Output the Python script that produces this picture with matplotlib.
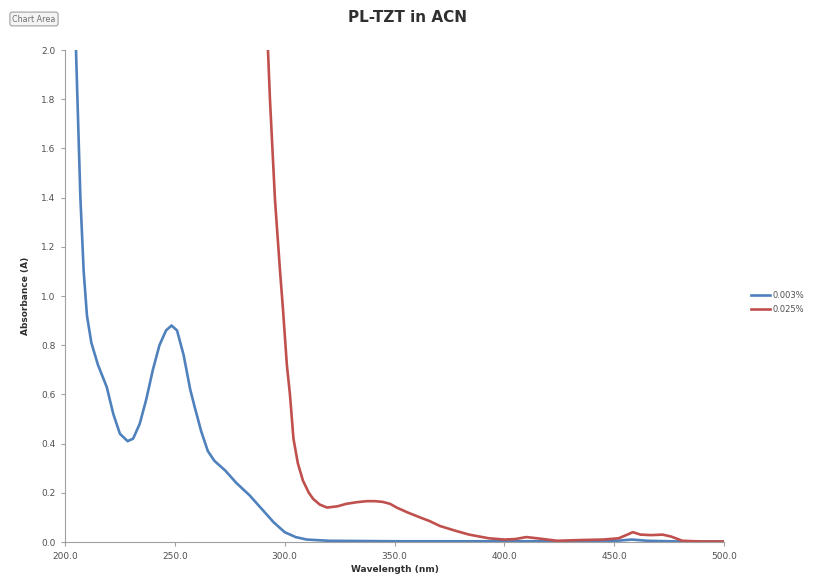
import matplotlib
matplotlib.use("Agg")
import matplotlib.pyplot as plt

title = "PL-TZT in ACN"
x_label = "Wavelength (nm)"
y_label = "Absorbance (A)"
series_labels = ["0.003%", "0.025%"]

wl_blue = [205, 206, 207, 208.5, 210, 212, 215, 219, 222, 225, 228.5, 231, 234,
           237, 240, 243, 246, 248.5, 251, 254, 257, 259, 262, 265, 268, 273,
           278, 284, 290, 295, 300, 305, 310, 320, 350, 400, 430, 450, 458,
           465, 480, 500]
abs_blue = [2.0, 1.7, 1.4, 1.1, 0.92, 0.81, 0.72, 0.63, 0.52, 0.44, 0.41, 0.42, 0.48,
            0.58, 0.70, 0.80, 0.86, 0.88, 0.86, 0.76, 0.62, 0.55, 0.45, 0.37, 0.33, 0.29,
            0.24, 0.19, 0.13, 0.08, 0.04, 0.02, 0.01, 0.005, 0.003, 0.003, 0.003, 0.004, 0.01,
            0.005, 0.002, 0.002]

wl_red = [292.4, 293.3, 295.6, 297.9, 299.2, 301, 302.4, 304, 306, 308.3, 311, 313, 316,
          319.3, 324, 328, 333, 337.5, 341, 344.7, 348, 351, 356, 361.6, 366, 370.7,
          378, 384, 393, 400, 405, 410, 415, 424, 435, 445, 452, 456, 458.5, 462, 467,
          472, 476, 481, 490, 500]
abs_red = [2.0, 1.8, 1.39, 1.1, 0.95, 0.72, 0.6, 0.42, 0.32, 0.25, 0.2, 0.175, 0.152,
           0.14, 0.145, 0.155, 0.162, 0.166, 0.166, 0.163, 0.155, 0.14, 0.12, 0.10, 0.085, 0.065,
           0.045, 0.03, 0.015, 0.01, 0.012, 0.02, 0.015, 0.005, 0.008, 0.01, 0.015, 0.03, 0.04,
           0.03, 0.028, 0.03, 0.022, 0.005, 0.002, 0.002]

x_ticks = [200, 250, 300, 350, 400, 450, 500]
y_ticks = [0.0, 0.2, 0.4, 0.6, 0.8, 1.0, 1.2, 1.4, 1.6, 1.8, 2.0]

fig = plt.figure(figsize=(8.15, 5.82), dpi=100)
ax = fig.add_axes([65/815, 1-542/582, (724-65)/815, (542-50)/582])

ax.plot(wl_blue, abs_blue, color="#4F81BD", lw=1.9, label=series_labels[0], solid_joinstyle="round")
ax.plot(wl_red, abs_red, color="#C0504D", lw=1.9, label=series_labels[1], solid_joinstyle="round")

ax.set_xlim(200, 500)
ax.set_ylim(0, 2.0)
ax.set_xticks(x_ticks)
ax.set_xticklabels([f"{v:.1f}" for v in x_ticks])
ax.set_yticks(y_ticks)
ax.set_yticklabels([f"{v:.1f}" for v in y_ticks])
for s in ["top", "right"]:
    ax.spines[s].set_visible(False)
for s in ["left", "bottom"]:
    ax.spines[s].set_color("#A0A0A0")
    ax.spines[s].set_linewidth(0.8)
ax.tick_params(axis="both", direction="out", length=3, color="#A0A0A0",
               labelsize=6.5, labelcolor="#505050", pad=4)

ax.set_xlabel(x_label, fontsize=6.5, fontweight="bold", color="#303030", labelpad=3)
ax.set_ylabel(y_label, fontsize=6.5, fontweight="bold", color="#303030", labelpad=8)

fig.text(408/815, 1-18/582, title, ha="center", va="center", fontsize=11,
         fontweight="bold", color="#303030")

fig.text(34/815, 1-19/582, "Chart Area", ha="center", va="center", fontsize=5.8,
         color="#707070",
         bbox=dict(boxstyle="round,pad=0.3", fc="#F4F4F4", ec="#A0A0A0", lw=0.8))

leg = fig.legend(loc="center left", bbox_to_anchor=(748/815, 1-302/582), frameon=False,
                 fontsize=6, handlelength=2.2, handletextpad=0.3, labelspacing=0.6,
                 borderaxespad=0)
for t in leg.get_texts():
    t.set_color("#505050")

fig.savefig("out.png", dpi=100)
